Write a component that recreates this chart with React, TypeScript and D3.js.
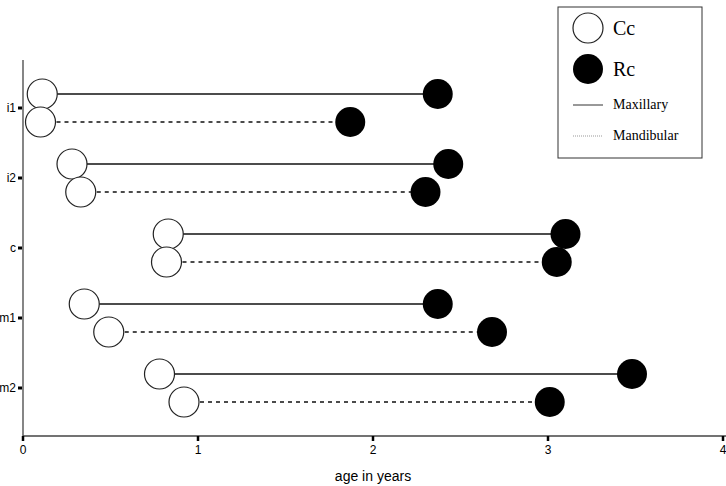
import React from "react";
import * as d3 from "d3";

const teeth = ["i1", "i2", "c", "m1", "m2"];
const maxCc = [0.11, 0.28, 0.83, 0.35, 0.78];
const maxRc = [2.37, 2.43, 3.1, 2.37, 3.48];
const mandCc = [0.1, 0.33, 0.82, 0.49, 0.92];
const mandRc = [1.87, 2.3, 3.05, 2.68, 3.01];
const xTicks = [0, 1, 2, 3, 4];

export default function App() {
  const W = 726, H = 486;
  const x = d3.scaleLinear().domain([0, 4]).range([23, 723]);
  const y = d3.scalePoint<string>().domain(teeth).range([108, 388]);
  const r = 15;
  const sans = "Arial, 'Liberation Sans', sans-serif";
  const serif = "'Times New Roman', 'Liberation Serif', serif";
  const rows = teeth.map((t, i) => ({
    t,
    maxCc: maxCc[i], maxRc: maxRc[i], mandCc: mandCc[i], mandRc: mandRc[i],
    yMax: (y(t) as number) - 14,
    yMand: (y(t) as number) + 14,
  }));
  return (
    <svg width={W} height={H} style={{ position: "absolute", left: 0, top: 0, background: "#fff" }}>
      {/* axes */}
      <line x1={x(0)} x2={x(0)} y1={60} y2={436} stroke="#444" strokeWidth={1.3} />
      <line x1={x(0)} x2={W} y1={436} y2={436} stroke="#444" strokeWidth={1.3} />
      {xTicks.map((v) => (
        <g key={v}>
          <line x1={x(v)} x2={x(v)} y1={436} y2={441} stroke="#000" strokeWidth={2.5} />
          <text x={x(v)} y={454} textAnchor="middle" fontFamily={sans} fontSize={12}>{v}</text>
        </g>
      ))}
      {teeth.map((t) => (
        <g key={t}>
          <rect x={x(0) - 5} y={(y(t) as number) - 1.5} width={4} height={3} fill="#000" />
          <text x={x(0) - 7} y={(y(t) as number) + 4} textAnchor="end" fontFamily={sans} fontSize={12}>{t}</text>
        </g>
      ))}
      <text x={373} y={481} textAnchor="middle" fontFamily={sans} fontSize={14}>age in years</text>
      {/* lines */}
      {rows.map((d) => (
        <g key={d.t}>
          <line x1={x(d.maxCc)} x2={x(d.maxRc)} y1={d.yMax} y2={d.yMax} stroke="#111" strokeWidth={1.3} />
          <line x1={x(d.mandCc)} x2={x(d.mandRc)} y1={d.yMand} y2={d.yMand} stroke="#111" strokeWidth={1.3} strokeDasharray="4,4" />
        </g>
      ))}
      {rows.map((d) => (
        <g key={d.t + "c"}>
          <circle cx={x(d.maxCc)} cy={d.yMax} r={r} fill="#fff" stroke="#222" strokeWidth={1.2} />
          <circle cx={x(d.mandCc)} cy={d.yMand} r={r} fill="#fff" stroke="#222" strokeWidth={1.2} />
          <circle cx={x(d.maxRc)} cy={d.yMax} r={r} fill="#000" />
          <circle cx={x(d.mandRc)} cy={d.yMand} r={r} fill="#000" />
        </g>
      ))}
      {/* legend */}
      <g>
        <rect x={558} y={7} width={144} height={151} fill="#fff" stroke="#333" strokeWidth={1} />
        <circle cx={588} cy={28} r={15} fill="#fff" stroke="#222" strokeWidth={1.2} />
        <text x={613} y={35} fontFamily={serif} fontSize={20}>Cc</text>
        <circle cx={588} cy={69} r={15} fill="#000" />
        <text x={613} y={76} fontFamily={serif} fontSize={20}>Rc</text>
        <line x1={573} x2={603} y1={105} y2={105} stroke="#333" strokeWidth={1} />
        <text x={613} y={109} fontFamily={serif} fontSize={14}>Maxillary</text>
        <line x1={573} x2={603} y1={136} y2={136} stroke="#999" strokeWidth={1} strokeDasharray="1,1" />
        <text x={613} y={140} fontFamily={serif} fontSize={14}>Mandibular</text>
      </g>
    </svg>
  );
}
